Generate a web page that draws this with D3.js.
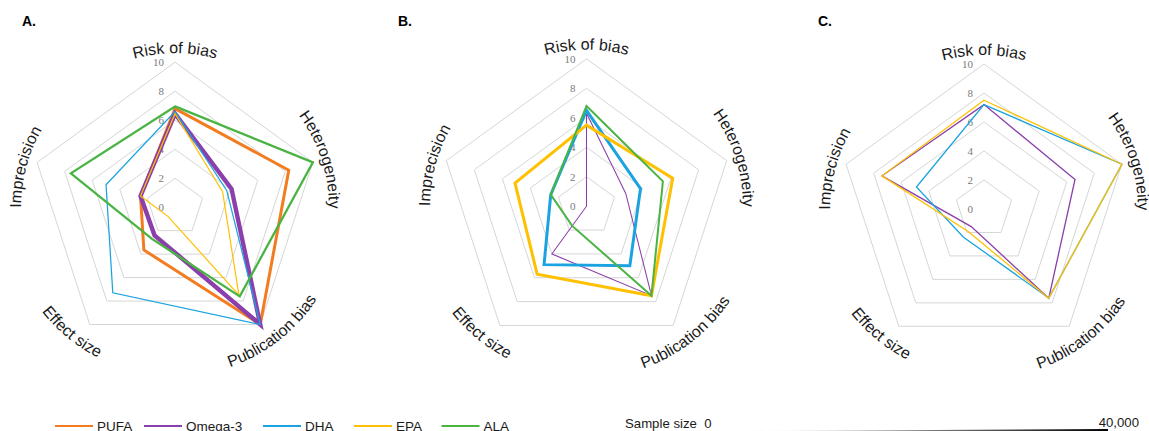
<!DOCTYPE html>
<html>
<head>
<meta charset="utf-8">
<script src="https://cdn.jsdelivr.net/npm/d3@7"></script>
<style>
  html, body { margin: 0; padding: 0; background: #fff; }
  svg { display: block; }
</style>
</head>
<body>
<svg id="chart" width="1149" height="431"></svg>
<script>
// GRADE-style domains, clockwise from the top
const domains = ["Risk of bias", "Heterogeneity", "Publication bias", "Effect size", "Imprecision"];
const ringTicks = [0, 2, 4, 6, 8, 10];

const seriesNames = ["PUFA", "Omega-3", "DHA", "EPA", "ALA"];
const seriesColors = ["#F47C20", "#8A3FAB", "#1BA3DF", "#FFC000", "#4AB443"];

// Panel A scores
const pufaA   = [6.8, 8.25, 10, 3.65, 2.5];
const omega3A = [6.45, 4.1, 10, 2.4, 2.5];
const dhaA    = [6.6, 3.75, 10, 7.3, 5.0];
const epaA    = [6.45, 3.45, 7.5, 0.8, 2.5];
const alaA    = [6.95, 10, 7.6, 2.7, 7.55];
// Panel A sample sizes (PUFA, Omega-3, DHA, EPA, ALA)
const sampleA = [20000, 34000, 2500, 2000, 13000];

// Panel B scores
const omega3B = [6.3, 2.8, 7.5, 4.0, 0];
const dhaB    = [6.5, 3.85, 5.0, 4.9, 2.55];
const epaB    = [5.5, 6.15, 7.5, 5.7, 5.1];
const alaB    = [6.8, 5.45, 7.5, 1.65, 2.55];
// Panel B sample sizes (Omega-3, DHA, EPA, ALA)
const sampleB = [500, 20000, 20000, 10000];

// Panel C scores
const omega3C = [7.2, 6.6, 7.6, 1.5, 7.4];
const dhaC    = [7.2, 10, 7.6, 2.4, 4.9];
const epaC    = [7.5, 10, 7.6, 1.9, 7.4];
// Panel C sample sizes (Omega-3, DHA, EPA)
const sampleC = [3000, 3000, 3000];

const panels = [
  { letter: "A.", lx: 22, cx: 175, cy: 207.2, R: 145,
    series: [["PUFA", pufaA], ["Omega-3", omega3A], ["DHA", dhaA], ["EPA", epaA], ["ALA", alaA]],
    samples: sampleA },
  { letter: "B.", lx: 398, cx: 586.5, cy: 206.2, R: 147.4,
    series: [["Omega-3", omega3B], ["DHA", dhaB], ["EPA", epaB], ["ALA", alaB]],
    samples: sampleB },
  { letter: "C.", lx: 818, cx: 984, cy: 209, R: 145,
    series: [["Omega-3", omega3C], ["DHA", dhaC], ["EPA", epaC]],
    samples: sampleC }
];

// small angular shifts (degrees) of each domain label along its arc
const labelShift = [0, 0, -2, 3.5, -3];

const svg = d3.select("#chart");
const color = d3.scaleOrdinal().domain(seriesNames).range(seriesColors);
const widthScale = d3.scaleLinear().domain([0, 40000]).range([1, 5]);
const angle = d3.scaleLinear().domain([0, domains.length]).range([0, 2 * Math.PI]);
const labelFont = "'Liberation Sans', Arial, sans-serif";

panels.forEach((p, pi) => {
  const r = d3.scaleLinear().domain([0, 10]).range([0, p.R]);
  const g = svg.append("g").attr("transform", `translate(${p.cx},${p.cy})`);

  const radial = d3.lineRadial()
    .angle((d, i) => angle(i))
    .radius(d => r(d))
    .curve(d3.curveLinearClosed);

  // pentagon grid
  g.selectAll("path.ring")
    .data(ringTicks.filter(t => t > 0))
    .join("path")
    .attr("class", "ring")
    .attr("d", t => radial(domains.map(() => t)))
    .attr("fill", "none")
    .attr("stroke", "#d6d6d6")
    .attr("stroke-width", 1);

  // ring values along the top axis
  g.selectAll("text.tick")
    .data(ringTicks)
    .join("text")
    .attr("class", "tick")
    .attr("x", -11)
    .attr("y", t => -r(t))
    .attr("dy", "0.35em")
    .attr("text-anchor", "end")
    .attr("font-family", "'Liberation Serif', 'Times New Roman', serif")
    .attr("font-size", 11)
    .attr("fill", "#7a7a7a")
    .text(t => t);

  // series outlines
  g.selectAll("path.series")
    .data(p.series.map((s, i) => ({ name: s[0], values: s[1], n: p.samples[i] })))
    .join("path")
    .attr("class", "series")
    .attr("d", d => radial(d.values))
    .attr("fill", "none")
    .attr("stroke", d => color(d.name))
    .attr("stroke-width", d => widthScale(d.n))
    .attr("stroke-linejoin", "miter");

  // domain labels set on arcs around the web
  const span = Math.PI * 40 / 180;
  const pt = (a, rad) => [rad * Math.sin(a), -rad * Math.cos(a)];
  domains.forEach((name, i) => {
    const a = angle(i) + labelShift[i] * Math.PI / 180;
    const bottom = Math.cos(angle(i)) < -0.5;
    const rad = bottom ? p.R * 1.166 : p.R * 1.062;
    let d;
    if (!bottom) {
      const s = pt(a - span, rad), e = pt(a + span, rad);
      d = `M${s[0]},${s[1]} A${rad},${rad} 0 0 1 ${e[0]},${e[1]}`;
    } else {
      const s = pt(a + span, rad), e = pt(a - span, rad);
      d = `M${s[0]},${s[1]} A${rad},${rad} 0 0 0 ${e[0]},${e[1]}`;
    }
    const id = `arc-${pi}-${i}`;
    g.append("path").attr("id", id).attr("d", d).attr("fill", "none").attr("stroke", "none");
    g.append("text")
      .attr("font-family", labelFont)
      .attr("font-size", 16)
      .attr("fill", "#1a1a1a")
      .append("textPath")
      .attr("href", `#${id}`)
      .attr("startOffset", "50%")
      .attr("text-anchor", "middle")
      .text(name);
  });

  // panel letter
  svg.append("text")
    .attr("x", p.lx)
    .attr("y", 26)
    .attr("font-family", labelFont)
    .attr("font-weight", "bold")
    .attr("font-size", 14)
    .attr("fill", "#000")
    .text(p.letter);
});

// series legend
const legendX = [55, 144, 263, 354, 441.5];
const legend = svg.append("g");
seriesNames.forEach((name, i) => {
  const x = legendX[i];
  legend.append("line")
    .attr("x1", x).attr("x2", x + 38)
    .attr("y1", 426).attr("y2", 426)
    .attr("stroke", color(name))
    .attr("stroke-width", 2.2);
  legend.append("text")
    .attr("x", x + 42)
    .attr("y", 430.5)
    .attr("font-family", labelFont)
    .attr("font-size", 13.5)
    .attr("fill", "#1a1a1a")
    .text(name);
});

// sample size key: wedge shading from 0 to 40,000
const sizeKey = svg.append("g");
const defs = svg.append("defs");
const grad = defs.append("linearGradient").attr("id", "sizeGrad")
  .attr("x1", "0%").attr("x2", "100%").attr("y1", "0%").attr("y2", "0%");
grad.append("stop").attr("offset", "0%").attr("stop-color", "#ffffff");
grad.append("stop").attr("offset", "100%").attr("stop-color", "#000000");
const keyScale = d3.scaleLinear().domain([0, 40000]).range([740, 1108]);
sizeKey.append("path")
  .attr("d", `M${keyScale(0)},431 L${keyScale(40000)},429 L${keyScale(40000)},432 Z`)
  .attr("fill", "url(#sizeGrad)");
sizeKey.append("text")
  .attr("x", 625).attr("y", 427.5)
  .attr("font-family", labelFont).attr("font-size", 13.2).attr("fill", "#1a1a1a")
  .attr("xml:space", "preserve")
  .text("Sample size  0");
sizeKey.append("text")
  .attr("x", 1139).attr("y", 427)
  .attr("text-anchor", "end")
  .attr("font-family", labelFont).attr("font-size", 13.2).attr("fill", "#1a1a1a")
  .text(d3.format(",")(40000));
</script>
</body>
</html>
